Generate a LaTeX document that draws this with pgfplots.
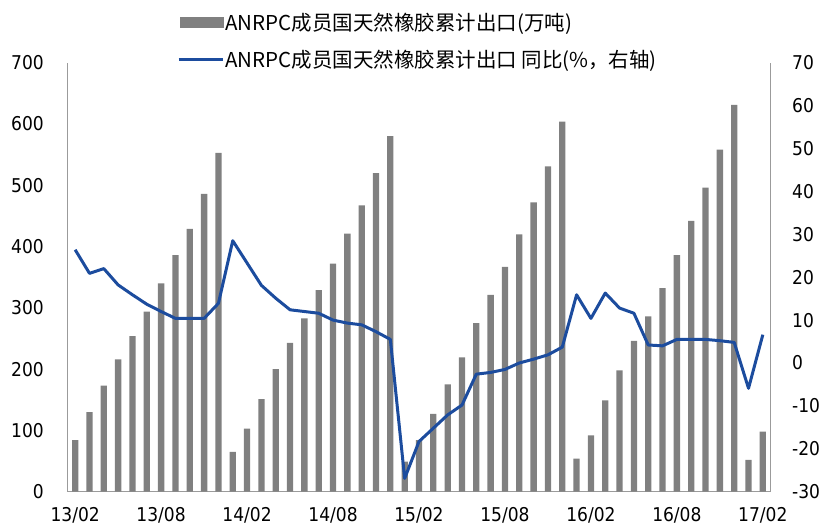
\documentclass[border=0pt]{standalone}
\usepackage{pgfplots}
\pgfplotsset{compat=1.18}
\usepackage{pgfplotstable}
\usepackage{fontspec}
\setmainfont{DejaVu Sans Condensed}
\newfontfamily\cjk{Noto Sans CJK SC}
\definecolor{barc}{RGB}{128,128,128}
\definecolor{linec}{RGB}{28,76,158}
\definecolor{axc}{RGB}{155,155,155}

\pgfplotstableread{
idx bar yoy
0 84 26.4
1 130 20.9
2 173 22.0
3 216 18.2
4 254 15.9
5 294 13.7
6 340 12.0
7 386 10.4
8 429 10.4
9 486 10.4
10 553 13.9
11 65 28.5
12 103 23.3
13 151 18.1
14 200 15.1
15 243 12.4
16 283 12.0
17 329 11.6
18 372 10.0
19 421 9.3
20 467 8.9
21 520 7.3
22 580 5.5
23 49 -26.9
24 84 -18.3
25 127 -15.2
26 175 -12.1
27 219 -9.8
28 275 -2.6
29 321 -2.2
30 367 -1.5
31 420 0.0
32 472 0.9
33 531 1.9
34 604 3.7
35 54 15.9
36 92 10.4
37 149 16.3
38 198 12.8
39 246 11.6
40 286 4.2
41 332 4.0
42 386 5.5
43 442 5.5
44 496 5.5
45 558 5.2
46 631 4.8
47 52 -5.9
48 98 6.6
}\datatable

\begin{document}
\begin{tikzpicture}
\useasboundingbox (0,0) rectangle (822pt,531pt);
\pgfplotsset{
  common/.style={
    scale only axis, width=702pt, height=429pt,
    at={(68pt,39.3pt)}, anchor=south west,
    xmin=-0.5, xmax=48.5,
    major tick length=0pt,
    axis line style={axc, line width=1pt},
    /pgf/number format/assume math mode=true,
    tick label style={font=\fontsize{19}{19}\selectfont, text=black},
  }
}
\begin{axis}[common,
  axis x line*=bottom, axis y line*=left,
  ymin=0, ymax=700, ytick={0,100,...,700},
  xtick={0,6,...,48},
  xticklabels={13/02,13/08,14/02,14/08,15/02,15/08,16/02,16/08,17/02},
  yticklabel style={anchor=east, inner sep=0pt, xshift=-24pt},
  xticklabel style={anchor=north, inner sep=0pt, yshift=-15pt},
]
\addplot[ybar, bar width=6.3pt, bar shift=0pt, fill=barc, draw=none] table[x=idx, y=bar] {\datatable};
\end{axis}
\begin{axis}[common,
  axis x line=none, axis y line*=right,
  ymin=-30, ymax=70, ytick={-30,-20,...,70},
  yticklabel style={anchor=west, inner sep=0pt, xshift=22pt},
  legend style={draw=none, fill=none, inner sep=0pt,
    at={(0.1553,1.119)}, anchor=north west,
    row sep=16pt,
    nodes={inner sep=1pt},
    font=\cjk\fontsize{20.5}{22}\selectfont},
  legend cell align=left,
]
\addlegendimage{legend image code/.code={\fill[barc] (0pt,-5pt) rectangle (43pt,5pt);}}
\addlegendentry{ANRPC成员国天然橡胶累计出口(万吨)}
\addplot[linec, line width=3pt, line join=round, mark=none,
  legend image code/.code={\draw[linec, line width=3pt] (-1pt,0pt) -- (43pt,0pt);}]
  table[x=idx, y=yoy] {\datatable};
\addlegendentry{ANRPC成员国天然橡胶累计出口 同比(\%，右轴)}
\end{axis}
\end{tikzpicture}
\end{document}
